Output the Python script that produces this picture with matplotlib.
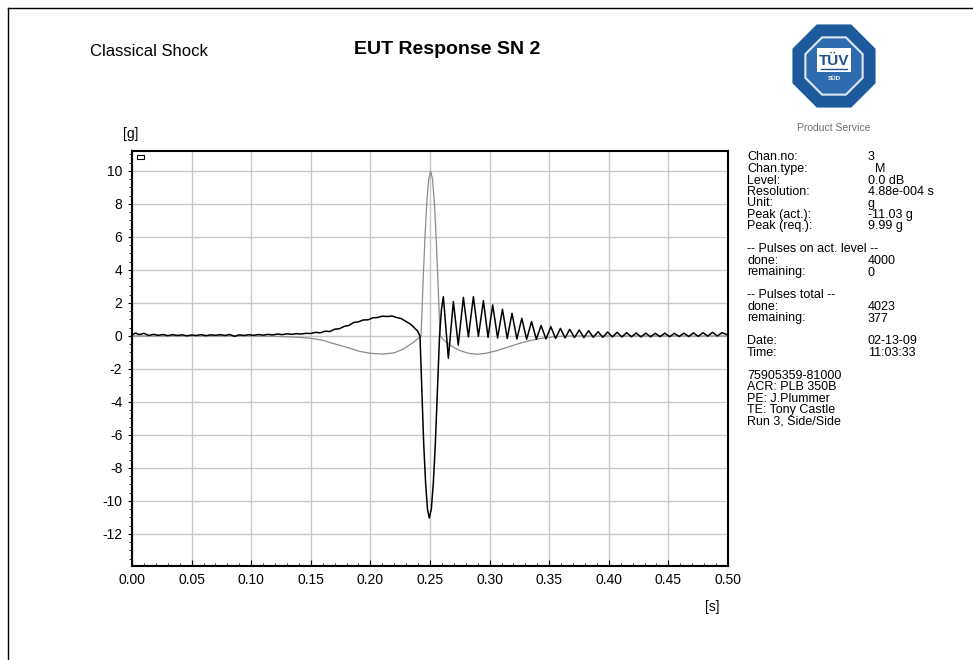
"""EUT response of a classical shock pulse, page-style report plot."""

import matplotlib

matplotlib.use("Agg")
import matplotlib.pyplot as plt
from matplotlib.patches import Rectangle, RegularPolygon
from matplotlib.ticker import FormatStrFormatter, MultipleLocator

# required pulse (grey), time [s] and acceleration [g]
t_req = [0.000, 0.100, 0.120, 0.140, 0.150, 0.160, 0.171, 0.180, 0.190, 0.200,
         0.2106, 0.220, 0.2274, 0.2358, 0.2425,
         0.2441, 0.2457, 0.2473, 0.2489, 0.2505, 0.2521, 0.2537, 0.2552, 0.2568, 0.2584,
         0.2610, 0.2640, 0.2668, 0.2710, 0.2752, 0.2820, 0.2892, 0.2970, 0.3060, 0.3160,
         0.3255, 0.3340, 0.3420, 0.3530, 0.3650, 0.5000]
g_req = [0.0, 0.0, -0.02, -0.08, -0.14, -0.26, -0.50, -0.68, -0.92, -1.05,
         -1.10, -1.02, -0.80, -0.40, 0.0,
         3.09, 5.87, 8.08, 9.50, 9.99, 9.50, 8.08, 5.87, 3.09, 0.0,
         -0.20, -0.40, -0.55, -0.74, -0.89, -1.04, -1.11, -1.05, -0.89, -0.66,
         -0.44, -0.28, -0.16, -0.05, 0.0, 0.0]

# measured response (black), split in segments
t_pre = [0.000, 0.003, 0.006, 0.010, 0.014, 0.018, 0.022, 0.026, 0.030, 0.034,
         0.038, 0.042, 0.046, 0.050, 0.054, 0.058, 0.062, 0.066, 0.070, 0.074,
         0.078, 0.082, 0.086, 0.090, 0.094, 0.098, 0.102, 0.106, 0.110, 0.114,
         0.118, 0.122, 0.126, 0.130, 0.134, 0.138, 0.142, 0.146, 0.150]
g_pre = [0.06, 0.18, 0.08, 0.16, 0.03, 0.10, 0.04, 0.09, 0.02, 0.08,
         0.03, 0.07, 0.01, 0.06, 0.03, 0.08, 0.02, 0.07, 0.04, 0.08,
         0.03, 0.09, -0.02, 0.07, 0.03, 0.08, 0.04, 0.09, 0.05, 0.10,
         0.06, 0.12, 0.08, 0.13, 0.10, 0.14, 0.12, 0.16, 0.15]

t_hump = [0.154, 0.158, 0.162, 0.166, 0.170, 0.174, 0.178, 0.182, 0.186, 0.190,
          0.194, 0.198, 0.202, 0.206, 0.210, 0.214, 0.218, 0.222, 0.226, 0.230,
          0.234, 0.237, 0.2395, 0.2416]
g_hump = [0.22, 0.19, 0.29, 0.27, 0.41, 0.44, 0.58, 0.64, 0.82, 0.86,
          0.97, 0.98, 1.10, 1.12, 1.20, 1.18, 1.21, 1.12, 1.05, 0.87,
          0.70, 0.48, 0.31, 0.00]

t_pulse = [0.2432, 0.2447, 0.2463, 0.2479, 0.2494, 0.2511, 0.2528, 0.2545, 0.2562, 0.2580]
g_pulse = [-3.40, -6.50, -8.90, -10.50, -11.03, -10.50, -8.90, -6.50, -3.40, 0.00]

t_ring = [0.2596, 0.2612, 0.2633, 0.2654, 0.2696, 0.2737, 0.2780, 0.2822, 0.2864, 0.2906,
          0.2948, 0.2987, 0.3026, 0.3067, 0.3108, 0.3148, 0.3188, 0.3229, 0.3270, 0.3311,
          0.3352, 0.3392, 0.3432, 0.3473, 0.3514, 0.3554, 0.3594, 0.3633, 0.3672, 0.3712,
          0.3752, 0.3791, 0.3830, 0.3870, 0.3910, 0.3950, 0.3990, 0.4030, 0.4070, 0.4110,
          0.4150, 0.4190, 0.4230, 0.4270, 0.4310, 0.4350, 0.4390, 0.4430, 0.4470, 0.4510,
          0.4550, 0.4590, 0.4630, 0.4670, 0.4710, 0.4750, 0.4790, 0.4830, 0.4870, 0.4910,
          0.4950, 0.5000]
g_ring = [1.60, 2.38, 0.50, -1.35, 2.08, -0.55, 2.34, -0.05, 2.38, -0.02,
          2.14, -0.08, 1.88, -0.12, 1.62, -0.15, 1.37, -0.18, 1.07, -0.20,
          0.87, -0.20, 0.63, -0.18, 0.56, -0.15, 0.46, -0.12, 0.40, -0.10,
          0.36, -0.10, 0.32, -0.08, 0.26, -0.08, 0.24, -0.06, 0.22, -0.06,
          0.20, -0.05, 0.18, -0.06, 0.17, -0.05, 0.16, -0.04, 0.17, -0.04,
          0.16, -0.03, 0.17, -0.03, 0.19, -0.02, 0.20, -0.01, 0.22, 0.00,
          0.20, 0.05]

info_rows = [
    ("Chan.no:", "3"),
    ("Chan.type:", "  M"),
    ("Level:", "0.0 dB"),
    ("Resolution:", "4.88e-004 s"),
    ("Unit:", "g"),
    ("Peak (act.):", "-11.03 g"),
    ("Peak (req.):", "9.99 g"),
    ("", ""),
    ("-- Pulses on act. level --", ""),
    ("done:", "4000"),
    ("remaining:", "0"),
    ("", ""),
    ("-- Pulses total --", ""),
    ("done:", "4023"),
    ("remaining:", "377"),
    ("", ""),
    ("Date:", "02-13-09"),
    ("Time:", "11:03:33"),
    ("", ""),
    ("75905359-81000", ""),
    ("ACR: PLB 350B", ""),
    ("PE: J.Plummer", ""),
    ("TE: Tony Castle", ""),
    ("Run 3, Side/Side", ""),
]


def main() -> None:
    plt.rcParams["font.family"] = ["Liberation Sans", "DejaVu Sans"]
    plt.rcParams["axes.unicode_minus"] = False
    W, H = 973, 660
    fig = plt.figure(figsize=(W / 100, H / 100), dpi=100)

    # plot frame in pixel terms: x 132..728, y 151..566
    ax = fig.add_axes([132 / W, 1 - 566 / H, (728 - 132) / W, (566 - 151) / H])
    ax.plot(t_req, g_req, color="#8c8c8c", lw=0.9)
    t_act = t_pre + t_hump + t_pulse + t_ring
    g_act = g_pre + g_hump + g_pulse + g_ring
    ax.plot(t_act, g_act, color="black", lw=1.1, solid_joinstyle="round")

    ax.set_xlim(0, 0.5)
    ax.set_ylim(-13.94, 11.21)
    ax.xaxis.set_major_locator(MultipleLocator(0.05))
    ax.xaxis.set_minor_locator(MultipleLocator(0.01))
    ax.xaxis.set_major_formatter(FormatStrFormatter("%.2f"))
    ax.yaxis.set_major_locator(MultipleLocator(2))
    ax.yaxis.set_minor_locator(MultipleLocator(0.5))
    ax.grid(which="major", color="#c8c8c8", lw=1.0)
    ax.set_axisbelow(True)
    ax.tick_params(axis="x", which="major", direction="in", length=4, pad=5, labelsize=10)
    ax.tick_params(axis="x", which="minor", direction="in", length=2.5)
    ax.tick_params(axis="y", which="major", direction="out", length=3, pad=4, labelsize=10)
    ax.tick_params(axis="y", which="minor", direction="out", length=2)
    for sp in ax.spines.values():
        sp.set_linewidth(1.5)
        sp.set_color("black")

    # overlay in pixel coordinates for page text and decorations
    ov = fig.add_axes([0, 0, 1, 1], facecolor="none")
    ov.set_xlim(0, W)
    ov.set_ylim(H, 0)
    ov.set_axis_off()

    ov.plot([8, W], [8, 8], color="black", lw=1.0)
    ov.plot([8, 8], [8, H], color="black", lw=1.0)
    ov.add_patch(Rectangle((137, 155), 7, 4, facecolor="white", edgecolor="black", lw=0.8))

    ov.text(90, 52, "Classical Shock", fontsize=12, ha="left", va="center")
    ov.text(447, 50, "EUT Response SN 2", fontsize=14, weight="bold", ha="center", va="center")
    ov.text(131, 134, "[g]", fontsize=10, ha="center", va="center")
    ov.text(712, 607, "[s]", fontsize=10, ha="center", va="center")

    for i, (label, value) in enumerate(info_rows):
        y = 160.5 + i * 11.5
        ov.text(747, y, label, fontsize=9, ha="left", va="baseline")
        ov.text(868, y, value, fontsize=9, ha="left", va="baseline")

    # TUV SUD logo
    cx, cy = 834, 66
    ov.add_patch(RegularPolygon((cx, cy), 8, radius=45, orientation=3.14159 / 8,
                                facecolor="#1d5a9b", edgecolor="none"))
    ov.add_patch(RegularPolygon((cx, cy), 8, radius=31, orientation=3.14159 / 8,
                                facecolor="#2d6daf", edgecolor="#dfe8f2", lw=1.5))
    ov.add_patch(Rectangle((cx - 17, cy - 18), 34, 24, facecolor="white", edgecolor="none"))
    ov.text(cx, cy - 5, "TÜV", fontsize=11, weight="bold", color="#1d4f8a",
            ha="center", va="center")
    ov.plot([cx - 13, cx + 13], [cy + 3, cy + 3], color="#1d4f8a", lw=1.0)
    ov.text(cx, cy + 12, "SÜD", fontsize=4.5, weight="bold", color="white",
            ha="center", va="center")
    ov.text(cx, 128, "Product Service", fontsize=7.5, color="#707070", ha="center", va="center")

    fig.savefig("out.png", dpi=100)


if __name__ == "__main__":
    main()
